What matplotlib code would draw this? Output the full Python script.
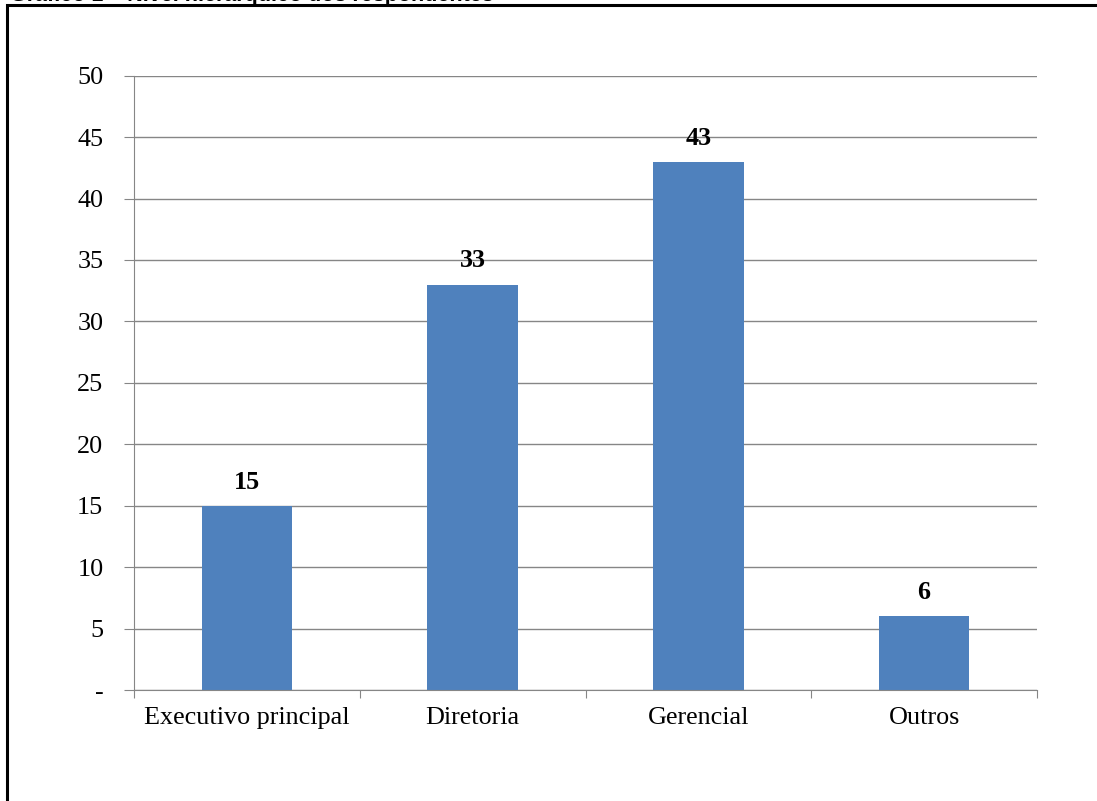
import matplotlib.pyplot as plt
from matplotlib.patches import Rectangle
import numpy as np

categorias = ["Executivo principal", "Diretoria", "Gerencial", "Outros"]
valores = [15, 33, 43, 6]
yticks = [0, 5, 10, 15, 20, 25, 30, 35, 40, 45, 50]
ytick_labels = ["-"] + [str(v) for v in yticks[1:]]

W, H = 1097, 801
FS = 18.8
fig = plt.figure(figsize=(W / 100, H / 100), dpi=100)
plt.rcParams['font.family'] = ['Liberation Serif', 'DejaVu Serif']

# moldura preta em volta do gráfico (cortada à direita e embaixo)
fig.patches.append(Rectangle((7 / W, -0.05), 1.2, 1 - 5 / H + 0.05,
                             transform=fig.transFigure, fill=False,
                             edgecolor='black', linewidth=2.2))

# título cortado no topo da página
fig.text(10 / W, 1 - 1.5 / H, "Gráfico 1 – Nível hierárquico dos respondentes",
         fontsize=15.5, fontweight='bold', family=['Liberation Sans'],
         va='baseline', ha='left')

ax = fig.add_axes([134 / W, 1 - 690 / H, (1037 - 134) / W, (690 - 75.7) / H])
x = np.arange(len(categorias))
ax.bar(x, valores, width=0.4, color='#4F81BD', zorder=3)

for xi, v in zip(x, valores):
    ax.annotate(str(v), (xi, v), xytext=(0, 17), textcoords='offset points',
                ha='center', va='center', fontsize=FS, fontweight='bold')

ax.set_xlim(-0.5, len(categorias) - 0.5)
ax.set_ylim(0, 50)
ax.set_yticks(yticks)
ax.set_yticklabels(ytick_labels, fontsize=FS)
ax.yaxis.grid(True, color='#868686', linewidth=1, zorder=0)

# marcas do eixo x nas divisas entre categorias
ax.set_xticks(np.arange(-0.5, len(categorias), 1))
ax.set_xticklabels([])
ax.set_xticks(x, minor=True)
ax.set_xticklabels(categorias, minor=True, fontsize=FS)
ax.tick_params(axis='x', which='major', length=6, color='#868686', direction='out')
ax.tick_params(axis='x', which='minor', length=0, pad=12)
ax.tick_params(axis='y', length=7, color='#868686', pad=15)

for s in ['top', 'right']:
    ax.spines[s].set_visible(False)
for s in ['left', 'bottom']:
    ax.spines[s].set_color('#868686')
    ax.spines[s].set_zorder(4)

fig.savefig("out.png", dpi=100)
